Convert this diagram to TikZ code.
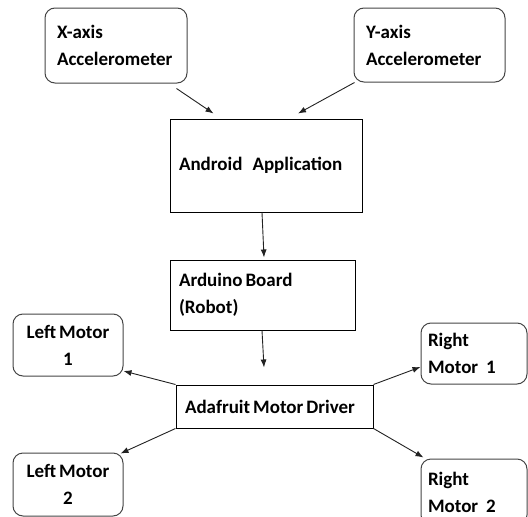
\documentclass[tikz,border=0pt]{standalone}
\usepackage{fontspec}
\setmainfont{Carlito}
\usetikzlibrary{arrows.meta,calc}
\definecolor{rbord}{HTML}{454545}
\definecolor{arr}{HTML}{222222}
\tikzset{
  txt/.style={font=\bfseries\fontsize{19}{27}\selectfont, execute at begin node={\spaceskip=3pt\relax}},
  rbox/.style={txt, draw=rbord, line width=1pt, rounded corners=10pt, inner ysep=0pt},
  sbox/.style={txt, draw=black, line width=1pt, inner ysep=0pt},
  conn/.style={draw=arr, line width=0.9pt, -{Latex[length=8pt,width=6pt]}}
}
\begin{document}
\begin{tikzpicture}[x=1pt,y=-1pt]
\useasboundingbox (0,0) rectangle (528,517);
\node[rbox, inner xsep=12pt, text width=118pt, minimum height=75pt, align=left] (xa) at (116,45.5) {X-axis\\Accelerometer};
\node[rbox, inner xsep=12pt, text width=127pt, minimum height=74pt, align=left] (ya) at (429.5,45) {Y-axis\\Accelerometer};
\node[sbox, inner xsep=9pt, text width=174pt, minimum height=93pt, align=left] (andr) at (266,165.5) {Android\hspace{10pt}Application};
\node[sbox, inner xsep=9pt, text width=167pt, minimum height=70pt, align=left] (ard) at (262.5,295) {Arduino Board\\(Robot)};
\node[sbox, inner xsep=9pt, text width=179pt, minimum height=43pt, align=left] (ada) at (274.5,406.5) {Adafruit Motor Driver};
\node[rbox, inner xsep=5pt, text width=100pt, minimum height=62pt, align=center] (lm1) at (68,345) {Left Motor\\1};
\node[rbox, inner xsep=5pt, text width=100pt, minimum height=63pt, align=center] (lm2) at (68,484.5) {Left Motor\\2};
\node[rbox, inner xsep=7pt, text width=92pt, minimum height=61pt, align=left] (rm1) at (474,353.5) {Right\\Motor\hspace{8pt}1};
\node[rbox, inner xsep=7pt, text width=92pt, minimum height=66pt, align=left] (rm2) at (474,492) {Right\\Motor\hspace{8pt}2};
\coordinate (x1) at ($(xa.south east)+(-11,5)$);
\coordinate (x2) at ($(andr.north west)+(44,-5)$);
\coordinate (y1) at ($(ya.south west)+(1,0)$);
\coordinate (y2) at ($(andr.north)+(32,-5)$);
\coordinate (a1) at ($(andr.south)+(-4,0)$);
\coordinate (a2) at ($(ard.north)+(1.5,-2)$);
\coordinate (b1) at ($(ard.south)+(-0.5,0)$);
\coordinate (b2) at ($(ada.north)+(-10.5,-17)$);
\coordinate (l1) at ($(lm1.east)+(0,26)$);
\coordinate (l2) at ($(lm2.north east)+(-3,1)$);
\coordinate (r1) at ($(rm1.west)+(0,13.5)$);
\coordinate (r2) at ($(rm2.north west)+(3,-1)$);
\draw[conn] (x1) -- (x2);
\draw[conn] (y1) -- (y2);
\draw[conn] (a1) -- (a2);
\draw[conn] (b1) -- (b2);
\draw[conn] (ada.north west) -- (l1);
\draw[conn] (ada.south west) -- (l2);
\draw[conn] (ada.north east) -- (r1);
\draw[conn] (ada.south east) -- (r2);
\end{tikzpicture}
\end{document}
